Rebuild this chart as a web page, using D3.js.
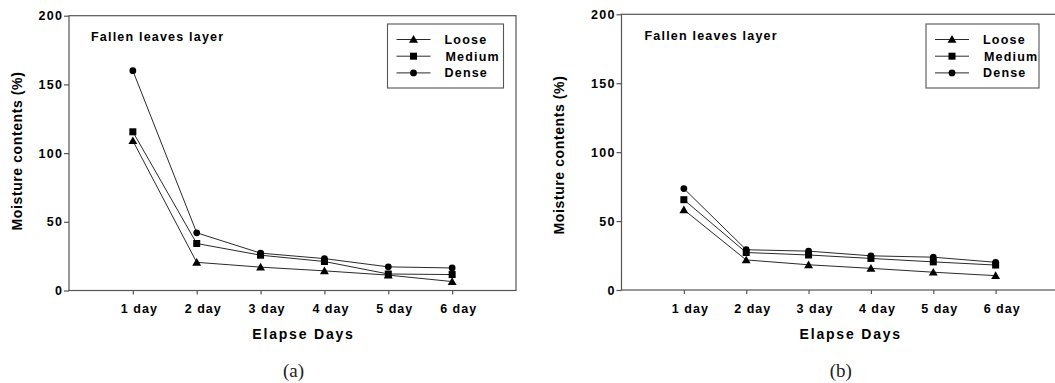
<!DOCTYPE html>
<html>
<head>
<meta charset="utf-8">
<script src="https://cdn.jsdelivr.net/npm/d3@7"></script>
<style>
  html, body { margin: 0; padding: 0; background: #fff; }
  svg { display: block; }
  .lbl { font-family: "Liberation Sans", Arial, sans-serif; font-weight: bold; fill: #000; }
</style>
</head>
<body>
<svg id="chart" width="1055" height="383"></svg>
<script>
// Elapsed days and y-axis ticks
const days = ["1 day", "2 day", "3 day", "4 day", "5 day", "6 day"];
const yTicks = [0, 50, 100, 150, 200];
const seriesNames = ["Loose", "Medium", "Dense"];

// Moisture contents (%) of the fallen leaves layer, panel (a)
const looseA  = [109, 20.5, 17, 14.3, 11.2, 6.5];
const mediumA = [115.5, 34.2, 25.7, 21.1, 12, 11.6];
const denseA  = [160, 42, 27.2, 23.2, 17.2, 16.4];

// Moisture contents (%) of the fallen leaves layer, panel (b)
const looseB  = [58.2, 21.8, 18.3, 15.7, 12.9, 10.4];
const mediumB = [65.5, 27.2, 25.4, 22.9, 20.4, 18.1];
const denseB  = [73.6, 29.2, 28.2, 24.8, 23.8, 20.1];

const panels = [
  { tag: "(a)", series: [looseA, mediumA, denseA],
    left: 69, right: 516, top: 15.7, bottom: 290.5,
    legend: { x: 387.5, y: 24, w: 116, h: 64 },
    note: { x: 91, y: 41 }, yLabelX: 21.5, yLabelY: 151 },
  { tag: "(b)", series: [looseB, mediumB, denseB],
    left: 621.5, right: 1058, top: 14.3, bottom: 290,
    legend: { x: 926, y: 24, w: 113, h: 64 },
    note: { x: 644.5, y: 39.5 }, yLabelX: 564, yLabelY: 155 }
];

const svg = d3.select("#chart");
const lineColor = "#2a2a2a";
const axisColor = "#555";

function marker(g, shape, x, y) {
  if (shape === 0) {
    g.append("path")
      .attr("d", d3.symbol(d3.symbolTriangle, 34)())
      .attr("transform", `translate(${x},${y})`)
      .attr("fill", "#000");
  } else if (shape === 1) {
    g.append("rect").attr("x", x - 3.5).attr("y", y - 3.5)
      .attr("width", 7).attr("height", 7).attr("fill", "#000");
  } else {
    g.append("circle").attr("cx", x).attr("cy", y).attr("r", 3.4).attr("fill", "#000");
  }
}

panels.forEach(p => {
  const g = svg.append("g");
  const x = d3.scaleLinear().domain([0, 7]).range([p.left, p.right]);
  const y = d3.scaleLinear().domain([0, 200]).range([p.bottom, p.top]);

  // frame
  g.append("rect")
    .attr("x", p.left).attr("y", p.top)
    .attr("width", p.right - p.left).attr("height", p.bottom - p.top)
    .attr("fill", "none").attr("stroke", axisColor).attr("stroke-width", 1.2);

  // y axis
  const yAxis = d3.axisLeft(y).tickValues(yTicks).tickSize(5).tickPadding(2);
  const ya = g.append("g").attr("transform", `translate(${p.left},0)`).call(yAxis);
  ya.select(".domain").remove();
  ya.selectAll(".tick line").attr("stroke", axisColor).attr("stroke-width", 1.2);
  ya.selectAll(".tick text").attr("class", "lbl")
    .style("font-size", "12.5px").style("letter-spacing", "1.3px").attr("dx", "1.3");

  // x axis
  const xAxis = d3.axisBottom(x).tickValues(d3.range(1, days.length + 1))
    .tickFormat(d => days[d - 1]).tickSize(4).tickPadding(10);
  const xa = g.append("g").attr("transform", `translate(0,${p.bottom})`).call(xAxis);
  xa.select(".domain").remove();
  xa.selectAll(".tick line").attr("stroke", axisColor).attr("stroke-width", 1.2);
  xa.selectAll(".tick text").attr("class", "lbl")
    .style("font-size", "12.5px").style("letter-spacing", "1px").attr("dx", "6");

  // series lines and markers
  p.series.forEach((vals, si) => {
    const line = d3.line().x((d, i) => x(i + 1)).y(d => y(d));
    g.append("path").datum(vals).attr("d", line)
      .attr("fill", "none").attr("stroke", lineColor).attr("stroke-width", 1);
    vals.forEach((v, i) => marker(g, si, x(i + 1), y(v) + (si === 0 ? 0.8 : 0)));
  });

  // legend
  const L = p.legend;
  g.append("rect").attr("x", L.x).attr("y", L.y).attr("width", L.w).attr("height", L.h)
    .attr("fill", "#fff").attr("stroke", axisColor).attr("stroke-width", 1.1);
  seriesNames.forEach((name, si) => {
    const cy = L.y + 15.5 + si * 16.7;
    g.append("line").attr("x1", L.x + 9).attr("x2", L.x + 43)
      .attr("y1", cy).attr("y2", cy).attr("stroke", lineColor).attr("stroke-width", 1);
    marker(g, si, L.x + 26, cy + (si === 0 ? 0.6 : 0));
    g.append("text").attr("class", "lbl").attr("x", L.x + 57 + (si === 1 ? 1 : 0)).attr("y", cy + 4.5)
      .style("font-size", "12.5px").style("letter-spacing", "1.2px").text(name);
  });

  // panel note
  g.append("text").attr("class", "lbl").attr("x", p.note.x).attr("y", p.note.y)
    .style("font-size", "12.5px").style("letter-spacing", "1.2px").text("Fallen leaves layer");

  // axis titles
  const mid = (x(1) + x(days.length)) / 2 + 11;
  g.append("text").attr("class", "lbl").attr("x", mid).attr("y", 339)
    .attr("text-anchor", "middle")
    .style("font-size", "14px").style("letter-spacing", "1.8px").text("Elapse Days");
  g.append("text").attr("class", "lbl")
    .attr("transform", `translate(${p.yLabelX},${p.yLabelY}) rotate(-90)`)
    .attr("text-anchor", "middle")
    .style("font-size", "14px").style("letter-spacing", "0.6px").text("Moisture contents (%)");

  // panel tag
  g.append("text").attr("x", mid - 10).attr("y", 376.5).attr("text-anchor", "middle")
    .style("font-family", "'Liberation Serif', 'DejaVu Serif', serif")
    .style("font-size", "19px").attr("fill", "#222").text(p.tag);
});
</script>
</body>
</html>
